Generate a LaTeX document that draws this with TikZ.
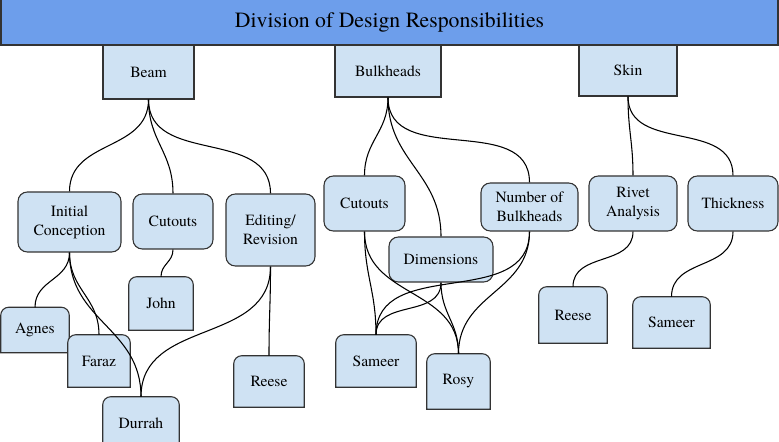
\documentclass[tikz,border=0pt]{standalone}
\usepackage{fontspec}
\setmainfont{TeX Gyre Termes}
\usetikzlibrary{backgrounds}
\definecolor{bannerblue}{RGB}{109,158,235}
\definecolor{boxblue}{RGB}{207,226,243}
\definecolor{edgegray}{RGB}{51,51,51}

\begin{document}
\begin{tikzpicture}[
        x=0.75pt, y=-0.75pt,
        size/.style 2 args={minimum width=#1*0.75pt, minimum height=#2*0.75pt},
        banner/.style={draw=edgegray, fill=bannerblue, line width=0.8pt, inner sep=0pt, font=\fontsize{16.3}{19}\selectfont},
        head/.style={draw=edgegray, fill=boxblue, line width=0.8pt, inner sep=0pt, align=center, font=\fontsize{11.7}{14.2}\selectfont},
        task/.style={head, rounded corners=7pt},
        leaf/.style={inner sep=0pt, align=center, font=\fontsize{11.7}{14.2}\selectfont},
        leafshape/.style={draw=edgegray, fill=boxblue, line width=0.8pt},
        link/.style={line width=0.8pt, out=-90, in=90, looseness=1.1}
    ]
        \useasboundingbox (0,0) rectangle (779,442);

        % --- title ---
        \node[banner, size={777}{46}] (title) at (389.5,22) {Division of Design Responsibilities};

        % --- top level parts ---
        \node[head, size={91}{54}] (beam) at (148.5,72) {Beam};
        \node[head, size={106}{52}] (bulk) at (388,71) {Bulkheads};
        \node[head, size={98}{51}] (skin) at (628,70.5) {Skin};

        % --- Beam tasks ---
        \node[task, size={103}{60}] (ic) at (69.5,222) {Initial\\Conception};
        \node[task, size={80}{55}] (bcut) at (173,221.5) {Cutouts};
        \node[task, size={89}{72}] (edit) at (270.5,230) {Editing/\\Revision};

        % --- Bulkheads tasks ---
        \node[task, size={81}{55}] (kcut) at (364.5,203.5) {Cutouts};
        \node[task, size={97}{48}] (nob) at (529.5,207) {Number of\\Bulkheads};
        \node[task, size={104}{45}] (dim) at (441,259.5) {Dimensions};

        % --- Skin tasks ---
        \node[task, size={88}{55}] (rivet) at (633,203.5) {Rivet\\Analysis};
        \node[task, size={90}{55}] (thick) at (733,203.5) {Thickness};

        % --- people ---
        \node[leaf, size={68}{45}] (agnes) at (35,330) {Agnes};
        \node[leaf, size={62}{52}] (faraz) at (99,361) {Faraz};
        \node[leaf, size={64}{53}] (john) at (161,303.5) {John};
        \node[leaf, size={76}{52}] (durrah) at (141,423) {Durrah};
        \node[leaf, size={70}{51}] (reese1) at (269,381.5) {Reese};
        \node[leaf, size={80}{52}] (sameer1) at (376,361) {Sameer};
        \node[leaf, size={63}{55}] (rosy) at (458.5,381.5) {Rosy};
        \node[leaf, size={68}{56}] (reese2) at (573,315) {Reese};
        \node[leaf, size={77}{51}] (sameer2) at (671.5,322.5) {Sameer};

        % boxes of the people: round top, square bottom
        \begin{scope}[on background layer]
            \foreach \n in {agnes,faraz,john,durrah,reese1,sameer1,rosy,reese2,sameer2}
                \draw[leafshape] (\n.south west) -- ([yshift=-6pt]\n.north west) arc[start angle=180, end angle=90, radius=6pt]
                    -- ([xshift=-6pt]\n.north east) arc[start angle=90, end angle=0, radius=6pt] -- (\n.south east) -- cycle;
        \end{scope}

        % --- connectors ---
        \draw[link] (beam.south) to (ic.north);
        \draw[link] (beam.south) to (bcut.north);
        \draw[link] (beam.south) to (edit.north);
        \draw[link] (ic.south) to (agnes.north);
        \draw[link] (ic.south) to (faraz.north);
        \draw[link] (ic.south) to (durrah.north);
        \draw[link] (bcut.south) to (john.north);
        \draw[link] (edit.south) to (reese1.north);
        \draw[link] (edit.south) to (durrah.north);

        \draw[link] (bulk.south) to (kcut.north);
        \draw[link] (bulk.south) to (dim.north);
        \draw[link] (bulk.south) to (nob.north);
        \draw[link] (kcut.south) to (sameer1.north);
        \draw[link] (kcut.south) to (rosy.north);
        \draw[link] (dim.south) to (sameer1.north);
        \draw[link] (dim.south) to (rosy.north);
        \draw[link] (nob.south) to (sameer1.north);
        \draw[link] (nob.south) to (rosy.north);

        \draw[link] (skin.south) to (rivet.north);
        \draw[link] (skin.south) to (thick.north);
        \draw[link] (rivet.south) to (reese2.north);
        \draw[link] (thick.south) to (sameer2.north);
\end{tikzpicture}
\end{document}
